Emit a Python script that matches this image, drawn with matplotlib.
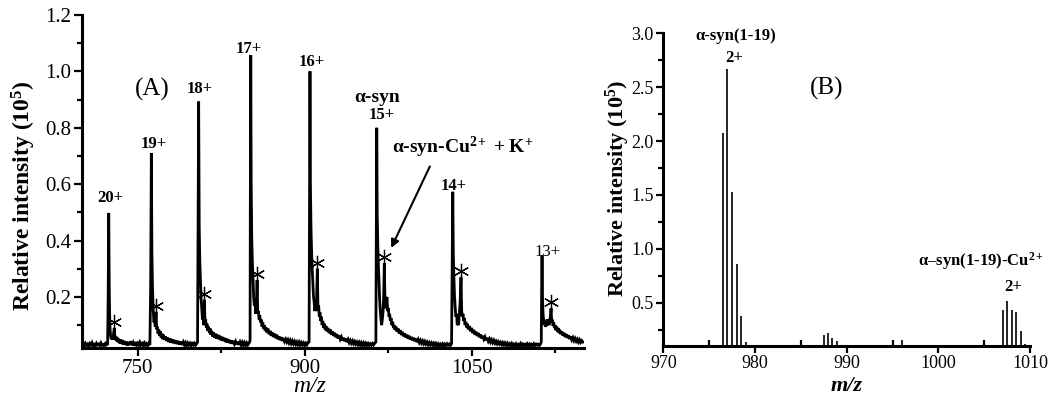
import matplotlib
matplotlib.use("Agg")
import matplotlib.pyplot as plt
from matplotlib.ticker import MultipleLocator
import matplotlib.transforms as mtransforms

plt.rcParams['font.family'] = ['Liberation Serif', 'DejaVu Serif']
plt.rcParams['mathtext.fontset'] = 'custom'
plt.rcParams['mathtext.rm'] = 'Liberation Serif'
plt.rcParams['mathtext.bf'] = 'Liberation Serif:bold'
plt.rcParams['mathtext.it'] = 'Liberation Serif:italic'

# ---------------- Panel A data: ESI spectrum trace, (m/z, intensity x1e5) ----------------
seg_base = [(700, .030), (701, .034), (702, .027), (703, .036), (704, .029), (705, .033), (706, .026),
            (707, .035), (708, .030), (709, .038), (710, .028), (711, .032), (712, .027), (713, .036),
            (714, .030), (715, .033), (716, .028), (717, .037), (718, .029), (719, .031), (720, .027),
            (721, .035), (722, .030), (723, .033)]
seg_20 = [(723.5, .20), (724.0, .498), (724.5, .22), (725.0, .10), (725.6, .065), (726.3, .05), (727.0, .062),
          (727.7, .048), (728.4, .07), (729.0, .09), (729.5, .05), (730.0, .062), (730.7, .045), (731.4, .058),
          (732.1, .04), (732.8, .052), (733.5, .036), (734.2, .05), (735, .034), (736, .047), (737, .031),
          (738, .044), (739, .03), (740, .041), (741, .028), (742, .04), (743, .03), (744, .043), (745, .029),
          (746, .038), (747, .027), (748, .04), (749, .03), (750, .036), (751, .028), (752, .039), (753, .03),
          (754, .035), (755, .028), (756, .037), (757, .029), (758, .034), (759, .027), (760, .035), (761, .03)]
seg_19 = [(761.7, .25), (762.3, .71), (762.8, .36), (763.3, .24), (763.9, .16), (764.6, .11), (765.3, .12),
          (765.8, .094), (766.5, .147), (767.1, .085), (767.7, .095), (768.3, .07), (769, .085), (769.7, .062),
          (770.4, .078), (771.1, .055), (771.8, .07), (772.5, .05), (773.2, .066), (774, .048), (775, .06),
          (776, .044), (777, .056), (778, .04), (779, .053), (780, .038), (781, .05), (782, .036), (783, .047),
          (784, .034), (785, .045), (786, .033), (787, .043), (788, .031), (789, .041), (790, .03), (791, .04),
          (792, .03), (793, .038), (794, .028), (795, .037), (796, .03), (797, .036), (798, .028), (799, .035),
          (800, .03), (801, .036), (802, .029), (803, .034), (803.8, .04)]
seg_18 = [(804.3, .50), (804.8, .893), (805.3, .45), (805.8, .33), (806.4, .26), (807.0, .19), (807.6, .16),
          (808.2, .12), (808.8, .13), (809.3, .10), (809.9, .19), (810.5, .11), (811.1, .12), (811.7, .09),
          (812.3, .105), (813, .08), (813.7, .095), (814.4, .072), (815.1, .088), (815.8, .066), (816.5, .08),
          (817.2, .06), (818, .075), (819, .056), (820, .07), (821, .052), (822, .066), (823, .05), (824, .062),
          (825, .046), (826, .058), (827, .044), (828, .055), (829, .04), (830, .052), (831, .038), (832, .048),
          (833, .036), (834, .046), (835, .034), (836, .044), (837, .033), (838, .042), (839, .031), (840, .041),
          (841, .03), (842, .04), (843, .03), (844, .039), (845, .029), (846, .038), (847, .029), (848, .037),
          (849, .03), (850, .036), (851, .045)]
seg_17 = [(851.2, .5), (851.6, 1.058), (852.0, .6), (852.5, .41), (853.0, .33), (853.6, .27), (854.2, .20),
          (854.8, .17), (855.4, .19), (856.0, .14), (856.6, .16), (857.3, .26), (857.9, .14), (858.5, .15),
          (859.1, .12), (859.7, .135), (860.3, .11), (861, .12), (861.7, .095), (862.4, .11), (863.1, .088),
          (863.8, .10), (864.5, .08), (865.2, .093), (866, .074), (867, .088), (868, .068), (869, .08),
          (870, .062), (871, .074), (872, .058), (873, .07), (874, .054), (875, .066), (876, .05), (877, .06),
          (878, .047), (879, .057), (880, .044), (881, .054), (882, .042), (883, .05), (884, .04), (885, .048),
          (886, .037), (887, .046), (888, .035), (889, .044), (890, .034), (891, .042), (892, .032), (893, .04),
          (894, .031), (895, .04), (896, .03), (897, .038), (898, .03), (899, .037), (900, .029), (901, .036),
          (902, .03), (903, .038), (904, .04)]
seg_16 = [(904.4, .5), (904.8, 1.0), (905.2, .6), (905.7, .45), (906.2, .37), (906.8, .30), (907.4, .25),
          (908, .20), (908.6, .18), (909.2, .15), (909.8, .17), (910.5, .15), (911.4, .30), (912, .16),
          (912.6, .17), (913.2, .13), (913.8, .145), (914.4, .115), (915, .13), (915.7, .10), (916.4, .115),
          (917.1, .09), (917.8, .105), (918.5, .083), (919.2, .097), (920, .078), (921, .09), (922, .072),
          (923, .085), (924, .066), (925, .078), (926, .062), (927, .073), (928, .057), (929, .068), (930, .053),
          (931, .063), (932, .05), (933, .058), (934, .046), (935, .055), (936, .043), (937, .052), (938, .04),
          (939, .049), (940, .038), (941, .046), (942, .036), (943, .044), (944, .034), (945, .042), (946, .033),
          (947, .04), (948, .031), (949, .039), (950, .03), (951, .038), (952, .029), (953, .037), (954, .028),
          (955, .036), (956, .029), (957, .035), (958, .028), (959, .034), (960, .029), (961, .035), (962, .03),
          (963, .036), (964, .04)]
seg_15 = [(964.4, .45), (964.8, .80), (965.2, .5), (965.7, .39), (966.2, .32), (966.8, .26), (967.4, .19),
          (968, .15), (968.6, .12), (969.2, .10), (969.8, .12), (970.5, .15), (971.0, .2), (971.6, .32),
          (972.2, .18), (972.8, .16), (973.4, .19), (974.0, .20), (974.6, .15), (975.2, .16), (975.8, .13),
          (976.4, .14), (977, .115), (977.7, .125), (978.4, .10), (979.1, .112), (979.8, .09), (980.5, .10),
          (981.2, .083), (982, .095), (983, .077), (984, .088), (985, .07), (986, .082), (987, .065), (988, .076),
          (989, .06), (990, .07), (991, .056), (992, .066), (993, .052), (994, .062), (995, .049), (996, .058),
          (997, .046), (998, .055), (999, .043), (1000, .052), (1001, .04), (1002, .049), (1003, .038),
          (1004, .046), (1005, .036), (1006, .044), (1007, .034), (1008, .042), (1009, .033), (1010, .04),
          (1011, .031), (1012, .038), (1013, .03), (1014, .037), (1015, .029), (1016, .036), (1017, .028),
          (1018, .035), (1019, .028), (1020, .034), (1021, .027), (1022, .033), (1023, .028), (1024, .034),
          (1025, .027), (1026, .033), (1027, .028), (1028, .034), (1029, .029), (1030, .033), (1031, .028),
          (1032, .035)]
seg_14 = [(1032.6, .35), (1033.1, .573), (1033.6, .35), (1034.1, .27), (1034.7, .20), (1035.3, .16),
          (1035.9, .13), (1036.5, .14), (1037.1, .10), (1037.7, .12), (1038.3, .10), (1039, .14), (1039.7, .18),
          (1040.5, .27), (1041.1, .15), (1041.7, .13), (1042.3, .14), (1042.9, .115), (1043.5, .125),
          (1044.1, .10), (1044.8, .112), (1045.5, .092), (1046.2, .105), (1047, .085), (1048, .097), (1049, .078),
          (1050, .09), (1051, .072), (1052, .083), (1053, .066), (1054, .077), (1055, .062), (1056, .072),
          (1057, .057), (1058, .067), (1059, .053), (1060, .062), (1061, .05), (1062, .058), (1063, .046),
          (1064, .055), (1065, .043), (1066, .051), (1067, .04), (1068, .048), (1069, .038), (1070, .046),
          (1071, .036), (1072, .043), (1073, .034), (1074, .041), (1075, .033), (1076, .039), (1077, .031),
          (1078, .038), (1079, .03), (1080, .037), (1081, .029), (1082, .036), (1083, .028), (1084, .034),
          (1085, .028), (1086, .035), (1087, .027), (1088, .033), (1089, .028), (1090, .034), (1091, .027),
          (1092, .032), (1093, .028), (1094, .035), (1095, .027), (1096, .033), (1097, .028), (1098, .032),
          (1099, .027), (1100, .034), (1101, .028), (1102, .033), (1103, .027), (1104, .032), (1105, .028),
          (1106, .034), (1107, .028), (1108, .033), (1109, .029), (1110, .032), (1111, .028), (1112, .034),
          (1112.6, .04)]
seg_13 = [(1112.9, .2), (1113.3, .347), (1113.7, .2), (1114.2, .14), (1114.8, .115), (1115.4, .10),
          (1116, .11), (1116.6, .094), (1117.2, .105), (1117.8, .12), (1118.4, .10), (1119, .115),
          (1119.6, .10), (1120.3, .12), (1120.8, .13), (1121.4, .16), (1122, .11), (1122.6, .12),
          (1123.2, .097), (1123.8, .11), (1124.4, .09), (1125, .10), (1125.7, .082), (1126.4, .095),
          (1127.1, .077), (1127.8, .09), (1128.5, .072), (1129.2, .084), (1130, .068), (1131, .078),
          (1132, .063), (1133, .073), (1134, .058), (1135, .068), (1136, .055), (1137, .064), (1138, .051),
          (1139, .06), (1140, .048), (1141, .056), (1142, .045), (1143, .053), (1144, .043), (1145, .05),
          (1146, .04), (1147, .048), (1148, .039), (1149, .045), (1150, .04)]

trace_segments = [seg_base, seg_20, seg_19, seg_18, seg_17, seg_16, seg_15, seg_14, seg_13]

charge_labels = ['20+', '19+', '18+', '17+', '16+', '15+', '14+']
charge_x = [725.2, 764.7, 806.0, 850.0, 906.4, 969.5, 1033.6]
charge_y = [0.552, 0.743, 0.937, 1.079, 1.035, 0.844, 0.594]

# Cu2+ + K+ adduct peaks (marked with asterisks)
adduct_mz = [729.0, 766.5, 809.9, 857.3, 911.4, 971.6, 1040.5, 1121.4]
adduct_int = [0.09, 0.147, 0.19, 0.26, 0.30, 0.32, 0.27, 0.16]

# ---------------- Panel B data: stick spectrum ----------------
stick_mz = [976.5, 977.0, 977.5, 978.0, 978.5, 979.0,
            987.5, 988.0, 988.4, 988.9,
            996.0,
            1007.0, 1007.5, 1008.0, 1008.5, 1009.0, 1009.5]
stick_int = [2.07, 2.67, 1.53, 0.86, 0.38, 0.135,
             0.20, 0.22, 0.176, 0.145,
             0.15,
             0.435, 0.515, 0.43, 0.417, 0.24, 0.12]

trace_mz = [p[0] for seg in trace_segments for p in seg]
trace_int = [p[1] for seg in trace_segments for p in seg]

# ---------------- Figure ----------------
fig = plt.figure(figsize=(10.5, 4.01), dpi=100)
axA = fig.add_axes([0.0781, 0.1329, 0.4781, 0.8297])
axB = fig.add_axes([0.6317, 0.1379, 0.3493, 0.7791])

for ax in (axA, axB):
    for s in ('top', 'right'):
        ax.spines[s].set_visible(False)
    for s in ('left', 'bottom'):
        ax.spines[s].set_linewidth(2.2)

# Panel A
axA.plot(trace_mz, trace_int, color='black', lw=2.0, solid_joinstyle='miter')
axA.set_xlim(700, 1151)
axA.set_ylim(0.02, 1.2)
axA.xaxis.set_major_locator(MultipleLocator(150))
axA.xaxis.set_minor_locator(MultipleLocator(75))
axA.yaxis.set_major_locator(MultipleLocator(0.2))
axA.yaxis.set_minor_locator(MultipleLocator(0.1))
axA.yaxis.set_major_formatter(plt.FuncFormatter(lambda v, p: f"{v:.1f}"))
axA.tick_params(which='major', direction='out', length=6, width=1.6, labelsize=15, pad=2)
axA.tick_params(which='minor', direction='out', length=3.5, width=1.6)

for lab, x, y in zip(charge_labels, charge_x, charge_y):
    axA.text(x, y, lab, ha='center', va='center', fontsize=12, fontweight='bold')
axA.text(1118.2, 0.361, '13+', ha='center', va='center', fontsize=12)
axA.text(965, 0.906, 'α-syn', ha='center', va='center', fontsize=14, fontweight='bold')
axA.text(978.3, 0.729, r'α-syn-Cu$^{\mathbf{2+}}$ + K$^{\mathbf{+}}$', ha='left', va='center',
         fontsize=14, fontweight='bold')
axA.annotate('', xy=(976.7, 0.365), xytext=(1013.6, 0.672),
             arrowprops=dict(arrowstyle='-|>', color='black', lw=1.5, mutation_scale=12))
axA.text(762.9, 0.937, '(A)', ha='center', va='center', fontsize=18)

star_tr = mtransforms.offset_copy(axA.transData, fig=fig, x=0, y=6, units='dots')
axA.plot(adduct_mz, adduct_int, linestyle='none', marker=(6, 2, 0), markersize=11,
         markeredgewidth=0.9, color='black', transform=star_tr)

# Panel B
axB.vlines(stick_mz, 0, stick_int, color='black', lw=1.2)
axB.set_xlim(970, 1010)
axB.set_ylim(0.1, 3.0)
axB.xaxis.set_major_locator(MultipleLocator(10))
axB.xaxis.set_minor_locator(MultipleLocator(5))
axB.yaxis.set_major_locator(MultipleLocator(0.5))
axB.yaxis.set_minor_locator(MultipleLocator(0.25))
axB.yaxis.set_major_formatter(plt.FuncFormatter(lambda v, p: f"{v:.1f}"))
axB.tick_params(which='major', direction='out', length=5, width=1.6, labelsize=13, pad=2)
axB.tick_params(axis='y', which='minor', direction='out', length=3.5, width=1.6)
axB.tick_params(axis='x', which='minor', direction='in', length=4, width=1.6)

axB.text(977.9, 2.978, 'α-syn(1-19)', ha='center', va='center', fontsize=12, fontweight='bold')
axB.text(977.7, 2.77, '2+', ha='center', va='center', fontsize=12, fontweight='bold')
axB.text(987.8, 2.49, '(B)', ha='center', va='center', fontsize=18)
axB.text(997.8, 0.885, r'α–syn(1-19)-Cu$^{\mathbf{2+}}$', ha='left', va='center',
         fontsize=12, fontweight='bold')
axB.text(1008.2, 0.644, '2+', ha='center', va='center', fontsize=12, fontweight='bold')

# Axis labels
fig.text(0.0229, 0.511, r'Relative intensity (10$^{\mathbf{5}}$)', rotation=90,
         ha='center', va='center', fontsize=17, fontweight='bold')
fig.text(0.5886, 0.529, r'Relative intensity (10$^{\mathbf{5}}$)', rotation=90,
         ha='center', va='center', fontsize=16, fontweight='bold')
fig.text(0.295, 0.035, 'm/z', ha='center', va='center', fontsize=17, style='italic')
fig.text(0.806, 0.037, 'm/z', ha='center', va='center', fontsize=16, style='italic',
         fontweight='bold')

fig.savefig('out.png', dpi=100)
